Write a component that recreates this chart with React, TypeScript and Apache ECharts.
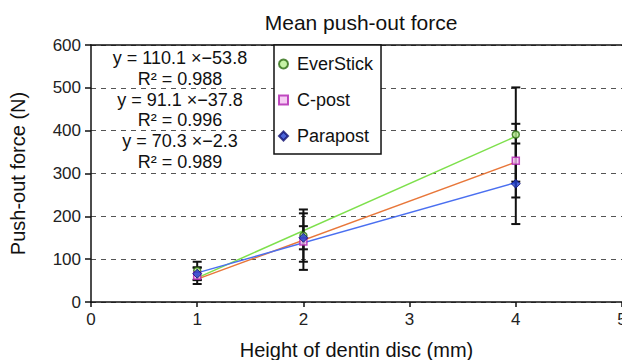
import React, { useEffect, useRef } from "react";
import * as echarts from "echarts";

const xValues = [1, 2, 4];
const seriesNames = ["EverStick", "C-post", "Parapost"];
const everstickMean = [73, 155, 391];
const everstickErr = [21, 61, 110];
const cpostMean = [61, 141, 330];
const cpostErr = [19, 66, 86];
const parapostMean = [66, 150, 276];
const parapostErr = [15, 27, 94];
const fitX = [1, 4];
const everstickFit = [56.3, 386.6];
const cpostFit = [53.3, 326.6];
const parapostFit = [68.0, 278.9];
const equations = [
  "y = 110.1 ×−53.8",
  "R² = 0.988",
  "y = 91.1 ×−37.8",
  "R² = 0.996",
  "y = 70.3 ×−2.3",
  "R² = 0.989",
];
const xTicks = [0, 1, 2, 3, 4, 5];
const yTicks = [0, 100, 200, 300, 400, 500, 600];

const FONT = "Liberation Sans, Arial, Helvetica, sans-serif";

export default function App() {
  const ref = useRef<HTMLDivElement>(null);
  useEffect(() => {
    if (!ref.current) return;
    const chart = echarts.init(ref.current, undefined, { renderer: "svg" });

    const errData: number[][] = [];
    const means = [everstickMean, cpostMean, parapostMean];
    const errs = [everstickErr, cpostErr, parapostErr];
    means.forEach((m, s) => {
      xValues.forEach((x, i) => {
        errData.push([x, m[i] - errs[s][i], m[i] + errs[s][i]]);
      });
    });

    const fits = [everstickFit, cpostFit, parapostFit];
    const lineColors = ["#7ee04c", "#e8773a", "#4a6ff0"];

    const option: any = {
      animation: false,
      textStyle: { fontFamily: FONT },
      title: {
        text: "Mean push-out force",
        left: 356,
        top: 7,
        textAlign: "center",
        textStyle: { fontFamily: FONT, fontSize: 21, fontWeight: "normal", color: "#111" },
      },
      grid: { left: 91, right: 0, top: 45, bottom: 58, outerBoundsMode: "none", containLabel: false },
      legend: {
        orient: "vertical",
        left: 274,
        top: 45,
        data: seriesNames,
        borderColor: "#111",
        borderWidth: 1.5,
        backgroundColor: "#fff",
        padding: [10, 8, 9, 4],
        itemGap: 18,
        itemWidth: 9,
        itemHeight: 9,
        textStyle: { fontFamily: FONT, fontSize: 18, color: "#111", padding: [0, 0, 0, 4] },
      },
      xAxis: [
        {
          type: "value",
          min: 0,
          max: 5,
          interval: 1,
          axisLine: { show: true, onZero: false, lineStyle: { color: "#111", width: 1.5 } },
          axisTick: { show: true, length: 5, lineStyle: { color: "#111", width: 1.5 } },
          axisLabel: {
            fontFamily: FONT,
            fontSize: 17,
            color: "#222",
            margin: 9,
            showMaxLabel: true,
            formatter: (v: number) => (xTicks.includes(v) ? String(v) : ""),
          },
          splitLine: { show: false },
          name: "Height of dentin disc (mm)",
          nameLocation: "middle",
          nameGap: 38,
          nameTextStyle: { fontFamily: FONT, fontSize: 20, color: "#111" },
        },
        {
          type: "value",
          position: "top",
          min: 0,
          max: 5,
          axisLine: { show: true, onZero: false, lineStyle: { color: "#111", width: 1.5 } },
          axisTick: { show: false },
          axisLabel: { show: false },
          splitLine: { show: false },
        },
      ],
      yAxis: {
        type: "value",
        min: 0,
        max: 600,
        interval: 100,
        axisLine: { show: true, onZero: false, lineStyle: { color: "#111", width: 1.5 } },
        axisTick: { show: true, length: 6, lineStyle: { color: "#111", width: 1.5 } },
        axisLabel: {
          fontFamily: FONT,
          fontSize: 17,
          color: "#222",
          margin: 10,
          formatter: (v: number) => (yTicks.includes(v) ? String(v) : ""),
        },
        splitLine: {
          show: true,
          lineStyle: { color: "#555", type: [5, 5], width: 1 },
        },
        name: "Push-out force (N)",
        nameLocation: "middle",
        nameGap: 63,
        nameTextStyle: { fontFamily: FONT, fontSize: 20, color: "#111" },
      },
      series: [
        ...fits.map((f, s) => ({
          type: "line",
          name: seriesNames[s] + " fit",
          data: fitX.map((x, i) => [x, f[i]]),
          showSymbol: false,
          symbol: "none",
          lineStyle: { color: lineColors[s], width: 1.5 },
          z: 2,
          silent: true,
        })),
        {
          type: "custom",
          name: "err",
          data: errData,
          z: 3,
          renderItem: (params: any, api: any) => {
            const x = api.value(0);
            const lo = api.coord([x, api.value(1)]);
            const hi = api.coord([x, api.value(2)]);
            const hw = 4.5;
            const st = { stroke: "#111", lineWidth: 2 };
            return {
              type: "group",
              children: [
                { type: "line", shape: { x1: lo[0], y1: lo[1], x2: hi[0], y2: hi[1] }, style: st },
                { type: "line", shape: { x1: lo[0] - hw, y1: lo[1], x2: lo[0] + hw, y2: lo[1] }, style: st },
                { type: "line", shape: { x1: hi[0] - hw, y1: hi[1], x2: hi[0] + hw, y2: hi[1] }, style: st },
              ],
            };
          },
          encode: { x: 0, y: [1, 2] },
        },
        {
          type: "scatter",
          name: "EverStick",
          data: xValues.map((x, i) => [x, everstickMean[i]]),
          symbol: "circle",
          symbolSize: 7,
          itemStyle: { color: "#b8f090", borderColor: "#2a6a10", borderWidth: 1.5 },
          z: 5,
        },
        {
          type: "scatter",
          name: "C-post",
          data: xValues.map((x, i) => [x, cpostMean[i]]),
          symbol: "rect",
          symbolSize: 7,
          itemStyle: { color: "#f4c0f0", borderColor: "#b020b0", borderWidth: 1.5 },
          z: 5,
        },
        {
          type: "scatter",
          name: "Parapost",
          data: xValues.map((x, i) => [x, parapostMean[i]]),
          symbol: "diamond",
          symbolSize: 9,
          itemStyle: { color: "#2040d0", borderColor: "#101070", borderWidth: 1 },
          z: 5,
        },
      ],
      graphic: equations.map((t, i) => ({
        type: "text",
        x: 180,
        y: 58 + i * 20.8,
        style: {
          text: t,
          fontFamily: FONT,
          fontSize: 18,
          fill: "#111",
          textAlign: "center",
          textVerticalAlign: "middle",
        },
        z: 10,
      })),
    };
    chart.setOption(option);
    return () => chart.dispose();
  }, []);
  return (
    <div
      ref={ref}
      style={{ position: "fixed", left: 0, top: 0, width: 622, height: 360, background: "#fff" }}
    />
  );
}
